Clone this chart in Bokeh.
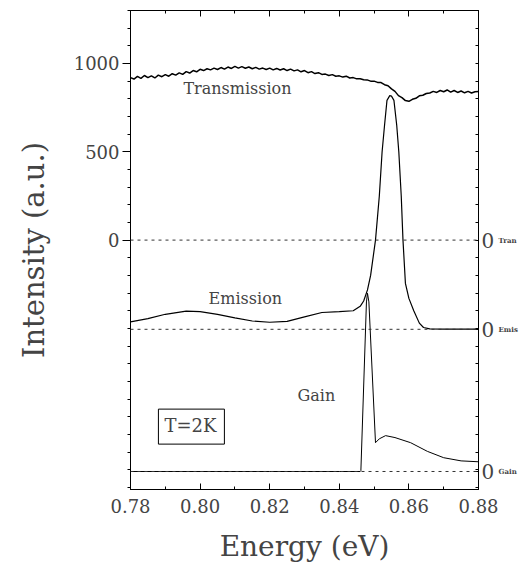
from bokeh.plotting import figure
from bokeh.models import Range1d, LinearAxis, FixedTicker, Span, Label, PrintfTickFormatter
from bokeh.embed import file_html
from bokeh.resources import INLINE

# ---- data ----
trans_e = [0.780, 0.781, 0.782, 0.783, 0.784, 0.785, 0.786, 0.787, 0.788, 0.789,
           0.790, 0.791, 0.792, 0.793, 0.794, 0.795, 0.796, 0.797, 0.798, 0.799,
           0.800, 0.801, 0.802, 0.803, 0.804, 0.805, 0.806, 0.807, 0.808, 0.809,
           0.810, 0.811, 0.812, 0.813, 0.814, 0.815, 0.816, 0.817, 0.818, 0.819,
           0.820, 0.821, 0.822, 0.823, 0.824, 0.825, 0.826, 0.827, 0.828, 0.829,
           0.830, 0.831, 0.832, 0.833, 0.834, 0.835, 0.836, 0.837, 0.838, 0.839,
           0.840, 0.841, 0.842, 0.843, 0.844, 0.845, 0.846, 0.847, 0.848, 0.849,
           0.850, 0.851, 0.852, 0.853, 0.854, 0.855, 0.856, 0.857, 0.858, 0.859,
           0.860, 0.861, 0.862, 0.863, 0.864, 0.865, 0.866, 0.867, 0.868, 0.869,
           0.870, 0.871, 0.872, 0.873, 0.874, 0.875, 0.876, 0.877, 0.878, 0.879, 0.880]
trans_i = [920, 912, 927, 916, 932, 920, 930, 918, 934, 925,
           937, 928, 942, 934, 947, 938, 954, 946, 960, 953,
           967, 960, 970, 964, 974, 966, 977, 968, 980, 972,
           984, 974, 982, 973, 980, 970, 978, 968, 974, 966,
           974, 964, 972, 963, 970, 960, 968, 958, 964, 953,
           960, 948, 954, 943, 948, 938, 940, 932, 937, 928,
           930, 923, 928, 918, 920, 913, 914, 908, 907, 900,
           900, 893, 892, 880, 874, 856, 842, 818, 807, 790,
           786, 797, 803, 817, 820, 830, 833, 842, 836, 847,
           840, 850, 838, 847, 836, 844, 834, 842, 833, 840, 842]

emis_e = [0.780, 0.785, 0.790, 0.796, 0.800, 0.805, 0.810, 0.815, 0.820, 0.825,
          0.830, 0.835, 0.840, 0.844, 0.846, 0.847, 0.8481, 0.849, 0.8504, 0.8515,
          0.8523, 0.8530, 0.8537, 0.8545, 0.8550, 0.8557, 0.8565, 0.8571, 0.8578, 0.8583,
          0.8590, 0.8600, 0.8614, 0.8630, 0.8642, 0.866, 0.870, 0.875, 0.880]
emis_i = [-463, -445, -420, -402, -405, -420, -440, -458, -465, -460,
          -435, -410, -405, -400, -375, -345, -282, -200, 0, 250,
          500, 650, 791, 818, 815, 791, 650, 500, 250, 0,
          -245, -330, -400, -470, -495, -503, -504, -504, -504]

gain_e = [0.780, 0.800, 0.820, 0.840, 0.8460, 0.8462, 0.8478, 0.8481, 0.8485, 0.8504,
          0.8515, 0.8533, 0.8560, 0.8605, 0.8653, 0.8700, 0.8750, 0.8800]
gain_i = [-1310, -1310, -1310, -1310, -1310, -1305, -350, -301, -350, -1147,
          -1125, -1107, -1118, -1147, -1196, -1232, -1250, -1255]

zero_levels = [0, -505, -1310]
zero_names = ["Tran", "Emis", "Gain"]

x_major = [0.78, 0.80, 0.82, 0.84, 0.86, 0.88]
x_minor = [0.79, 0.81, 0.83, 0.85, 0.87]
y_major = [0, 500, 1000]
y_minor = list(range(-1400, 1301, 100))

SERIF = "DejaVu Serif"

p = figure(width=520, height=567, output_backend="svg", toolbar_location=None,
           x_range=Range1d(0.78, 0.88), y_range=Range1d(-1412, 1300),
           min_border_left=130, min_border_right=41, min_border_top=10, min_border_bottom=78)
p.grid.visible = False
p.outline_line_color = "black"
p.background_fill_color = "white"
p.border_fill_color = "white"

xa = p.xaxis[0]
xa.ticker = FixedTicker(ticks=x_major, minor_ticks=x_minor)
xa.formatter = PrintfTickFormatter(format="%.2f")
xa.major_tick_in = 6
xa.major_tick_out = 0
xa.minor_tick_in = 3
xa.minor_tick_out = 0
xa.major_label_text_font = SERIF
xa.major_label_text_font_size = "18px"
xa.major_label_standoff = 9
xa.axis_label = "Energy (eV)"
xa.axis_label_text_font = SERIF
xa.axis_label_text_font_size = "28px"
xa.axis_label_text_font_style = "normal"
xa.axis_label_standoff = 14

ya = p.yaxis[0]
ya.ticker = FixedTicker(ticks=y_major, minor_ticks=y_minor)
ya.major_tick_in = 0
ya.major_tick_out = 8
ya.minor_tick_in = 0
ya.minor_tick_out = 3
ya.major_label_text_font = SERIF
ya.major_label_text_font_size = "18px"
ya.major_label_standoff = 3
ya.axis_label = "Intensity (a.u.)"
ya.axis_label_text_font = SERIF
ya.axis_label_text_font_size = "29px"
ya.axis_label_text_font_style = "normal"
ya.axis_label_standoff = 20

top = LinearAxis(ticker=FixedTicker(ticks=x_major, minor_ticks=x_minor),
                 major_tick_in=6, major_tick_out=0, minor_tick_in=3, minor_tick_out=0,
                 major_label_text_font_size="0px", major_label_text_color=None,
                 major_label_standoff=0)
p.add_layout(top, "above")

# right axis: ticks every 100 and the "0" marks of the three offset curves
right0 = LinearAxis(ticker=FixedTicker(ticks=zero_levels, minor_ticks=y_minor),
                    major_tick_in=3, major_tick_out=0, minor_tick_in=3, minor_tick_out=0,
                    major_label_overrides={lvl: "0" for lvl in zero_levels},
                    major_label_text_font=SERIF, major_label_text_font_size="20px",
                    major_label_standoff=3)
p.add_layout(right0, "right")
right1 = LinearAxis(ticker=FixedTicker(ticks=zero_levels, minor_ticks=[]),
                    major_tick_in=0, major_tick_out=0, axis_line_color=None,
                    major_tick_line_color=None, minor_tick_line_color=None,
                    major_label_overrides=dict(zip(zero_levels, zero_names)),
                    major_label_text_font=SERIF, major_label_text_font_size="7px",
                    major_label_text_font_style="bold", major_label_standoff=1)
p.add_layout(right1, "right")

for lvl in zero_levels:
    p.add_layout(Span(location=lvl, dimension="width", line_color="#333333",
                      line_width=1, line_dash="3 4"))

p.line(trans_e, trans_i, line_color="black", line_width=1.5)
p.line(emis_e, emis_i, line_color="black", line_width=1.2)
p.line(gain_e, gain_i, line_color="black", line_width=1.0)

p.add_layout(Label(x=0.7952, y=859, text="Transmission", text_font=SERIF, text_font_size="16px",
                   text_baseline="middle", text_align="left"))
p.add_layout(Label(x=0.8130, y=-328, text="Emission", text_font=SERIF, text_font_size="16px",
                   text_baseline="middle", text_align="center"))
p.add_layout(Label(x=0.8334, y=-881, text="Gain", text_font=SERIF, text_font_size="16px",
                   text_baseline="middle", text_align="center"))
p.add_layout(Label(x=0.7975, y=-1056, text="T=2K", text_font=SERIF, text_font_size="18px",
                   text_baseline="middle", text_align="center",
                   border_line_color="black", border_line_width=1,
                   background_fill_color="white", padding=(6, 8, 6, 8)))

open("out.html", "w").write(file_html(p, INLINE))
